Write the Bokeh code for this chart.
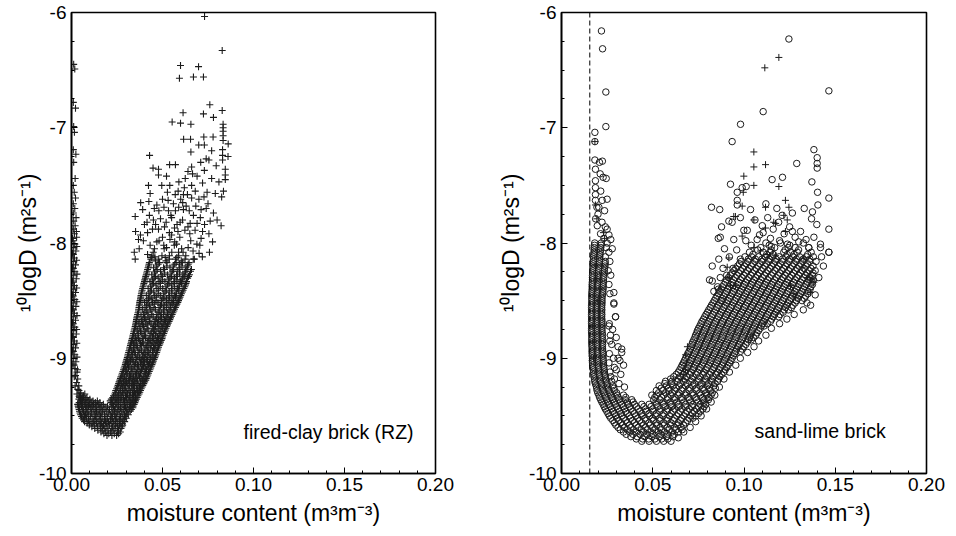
from bokeh.plotting import figure
from bokeh.models import Range1d, SingleIntervalTicker, PrintfTickFormatter, Label, Span
from bokeh.layouts import row
from bokeh.embed import file_html
from bokeh.resources import INLINE

# ---------------- data ----------------
x_ticks_interval = 0.05
y_ticks_interval = 1
x_label = "moisture content (m\u00b3m\u207b\u00b3)"
y_label = "\u00b9\u2070logD (m\u00b2s\u207b\u00b9)"
rz_title = "fired-clay brick (RZ)"
sl_title = "sand-lime brick"
sl_threshold_x = 0.0155

# fired-clay brick (RZ): points near zero moisture content
rz_streak = [
    [0.0012, -6.45], [0.0018, -6.49], [0.0010, -6.78], [0.0022, -6.83], [0.0012, -6.99], [0.0016, -7.04],
    [0.0010, -7.19], [0.0024, -7.23], [0.0012, -7.30], [0.0020, -7.44], [0.0010, -7.50], [0.0015, -7.56],
    [0.0022, -7.61], [0.0010, -7.66], [0.0018, -7.70], [0.0010, -7.74], [0.0025, -7.78], [0.0012, -7.81],
    [0.0020, -7.85], [0.0010, -7.88], [0.0016, -7.92], [0.0028, -7.95], [0.0010, -7.98], [0.0018, -8.01],
    [0.0012, -8.04], [0.0024, -8.07], [0.0010, -8.10], [0.0016, -8.13], [0.0012, -8.16], [0.0022, -8.19],
    [0.0010, -8.22], [0.0018, -8.25], [0.0012, -8.28], [0.0026, -8.31], [0.0010, -8.34], [0.0016, -8.37],
    [0.0012, -8.40], [0.0022, -8.43], [0.0010, -8.46], [0.0018, -8.49], [0.0012, -8.52], [0.0024, -8.55],
    [0.0010, -8.58], [0.0016, -8.61], [0.0012, -8.64], [0.0022, -8.67], [0.0010, -8.70], [0.0018, -8.73],
    [0.0012, -8.76], [0.0026, -8.79], [0.0010, -8.82], [0.0016, -8.85], [0.0012, -8.88], [0.0022, -8.91],
    [0.0010, -8.94], [0.0018, -8.97], [0.0012, -9.00], [0.0024, -9.03], [0.0014, -9.06], [0.0020, -9.09],
    [0.0030, -9.12], [0.0022, -9.15], [0.0034, -9.18], [0.0028, -9.21], [0.0040, -9.24], [0.0035, -9.27],
    [0.0048, -9.30], [0.0042, -9.33], [0.0058, -9.36],
    [0.0027, -7.90], [0.0006, -7.96], [0.0029, -8.03], [0.0006, -8.09], [0.0028, -8.15], [0.0006, -8.21],
    [0.0030, -8.27], [0.0006, -8.33], [0.0028, -8.39], [0.0006, -8.45], [0.0029, -8.51], [0.0006, -8.57],
    [0.0030, -8.63], [0.0006, -8.69], [0.0028, -8.75], [0.0006, -8.81], [0.0029, -8.87], [0.0006, -8.93],
    [0.0030, -8.99], [0.0008, -9.05], [0.0033, -9.10], [0.0015, -9.16], [0.0020, -9.24], [0.0030, -9.31],
]

# fired-clay brick (RZ): dense band, rows of (log D, [moisture contents])
rz_rows = [
    (-9.67, [0.0195, 0.0222, 0.0248]),
    (-9.64, [0.0162, 0.0188, 0.0215, 0.0252, 0.0268]),
    (-9.61, [0.0128, 0.0161, 0.0183, 0.0221, 0.0239, 0.0272]),
    (-9.58, [0.0098, 0.0125, 0.0158, 0.0176, 0.0208, 0.0241, 0.0263, 0.0281]),
    (-9.55, [0.0072, 0.0101, 0.0122, 0.0151, 0.0187, 0.0203, 0.0232, 0.0268, 0.0292]),
    (-9.52, [0.0059, 0.0083, 0.0118, 0.0139, 0.0168, 0.0197, 0.0226, 0.0249, 0.0278, 0.0301]),
    (-9.49, [0.0050, 0.0077, 0.0095, 0.0128, 0.0152, 0.0181, 0.0213, 0.0237, 0.0262, 0.0291, 0.0312]),
    (-9.46, [0.0044, 0.0066, 0.0091, 0.0119, 0.0137, 0.0171, 0.0194, 0.0229, 0.0254, 0.0276, 0.0303, 0.0322]),
    (-9.43, [0.0039, 0.0058, 0.0084, 0.0103, 0.0134, 0.0158, 0.0189, 0.0221, 0.0243, 0.0269, 0.0297, 0.0318, 0.0337]),
    (-9.40, [0.0034, 0.0052, 0.0073, 0.0098, 0.0121, 0.0147, 0.0175, 0.0226, 0.0251, 0.0283, 0.0306, 0.0331, 0.0344]),
    (-9.37, [0.0049, 0.0069, 0.0092, 0.0118, 0.0142, 0.0213, 0.0238, 0.0259, 0.0291, 0.0317, 0.0339, 0.0352]),
    (-9.34, [0.0045, 0.0062, 0.0085, 0.0227, 0.0249, 0.0271, 0.0302, 0.0326, 0.0348, 0.0361]),
    (-9.31, [0.0051, 0.0073, 0.0238, 0.0259, 0.0284, 0.0308, 0.0335, 0.0352, 0.0371]),
    (-9.28, [0.0041, 0.0243, 0.0268, 0.0294, 0.0317, 0.0339, 0.0362, 0.0379]),
    (-9.25, [0.0252, 0.0281, 0.0298, 0.0331, 0.0347, 0.0374, 0.0388]),
    (-9.22, [0.0259, 0.0276, 0.0309, 0.0328, 0.0359, 0.0378, 0.0397]),
    (-9.19, [0.0266, 0.0295, 0.0314, 0.0344, 0.0362, 0.0391, 0.0408]),
    (-9.16, [0.0272, 0.0291, 0.0325, 0.0341, 0.0374, 0.0394, 0.0415]),
    (-9.13, [0.0279, 0.0309, 0.0326, 0.0357, 0.0379, 0.0406, 0.0423]),
    (-9.10, [0.0286, 0.0303, 0.0338, 0.0365, 0.0385, 0.0412, 0.0431]),
    (-9.07, [0.0293, 0.0321, 0.0344, 0.0369, 0.0396, 0.0419, 0.0438]),
    (-9.04, [0.0298, 0.0315, 0.0351, 0.0379, 0.0401, 0.0428, 0.0446]),
    (-9.01, [0.0304, 0.0333, 0.0355, 0.0386, 0.0411, 0.0432, 0.0453]),
    (-8.98, [0.0309, 0.0328, 0.0364, 0.0391, 0.0419, 0.0443, 0.0461]),
    (-8.95, [0.0314, 0.0345, 0.0372, 0.0399, 0.0422, 0.0449, 0.0468]),
    (-8.92, [0.0319, 0.0341, 0.0376, 0.0403, 0.0433, 0.0457, 0.0474]),
    (-8.89, [0.0324, 0.0356, 0.0384, 0.0414, 0.0438, 0.0463, 0.0481]),
    (-8.86, [0.0329, 0.0349, 0.0389, 0.0419, 0.0447, 0.0471, 0.0489]),
    (-8.83, [0.0334, 0.0368, 0.0393, 0.0426, 0.0452, 0.0478, 0.0497]),
    (-8.80, [0.0338, 0.0361, 0.0402, 0.0431, 0.0461, 0.0486, 0.0503]),
    (-8.77, [0.0343, 0.0379, 0.0408, 0.0441, 0.0465, 0.0492, 0.0511]),
    (-8.74, [0.0348, 0.0372, 0.0415, 0.0444, 0.0476, 0.0501, 0.0519]),
    (-8.71, [0.0352, 0.0391, 0.0419, 0.0453, 0.0481, 0.0508, 0.0527]),
    (-8.68, [0.0356, 0.0384, 0.0428, 0.0458, 0.0491, 0.0516, 0.0536]),
    (-8.65, [0.0359, 0.0401, 0.0431, 0.0468, 0.0495, 0.0524, 0.0544]),
    (-8.62, [0.0363, 0.0395, 0.0441, 0.0469, 0.0506, 0.0531, 0.0553]),
    (-8.59, [0.0368, 0.0411, 0.0442, 0.0482, 0.0509, 0.0541, 0.0562]),
    (-8.56, [0.0371, 0.0404, 0.0453, 0.0481, 0.0521, 0.0546, 0.0571]),
    (-8.53, [0.0374, 0.0421, 0.0455, 0.0495, 0.0524, 0.0557, 0.0579]),
    (-8.50, [0.0377, 0.0414, 0.0464, 0.0494, 0.0535, 0.0561, 0.0588]),
    (-8.47, [0.0381, 0.0431, 0.0466, 0.0508, 0.0539, 0.0572, 0.0596]),
    (-8.44, [0.0384, 0.0425, 0.0476, 0.0507, 0.0551, 0.0576, 0.0604]),
    (-8.41, [0.0388, 0.0439, 0.0479, 0.0521, 0.0552, 0.0589, 0.0613]),
    (-8.38, [0.0393, 0.0435, 0.0488, 0.0519, 0.0565, 0.0591, 0.0622]),
    (-8.35, [0.0398, 0.0451, 0.0489, 0.0536, 0.0566, 0.0604, 0.0629]),
    (-8.32, [0.0403, 0.0446, 0.0499, 0.0534, 0.0579, 0.0607]),
    (-8.29, [0.0408, 0.0461, 0.0501, 0.0549, 0.0581, 0.0619, 0.0643]),
    (-8.26, [0.0413, 0.0456, 0.0512, 0.0547, 0.0594, 0.0623]),
    (-8.23, [0.0418, 0.0471, 0.0511, 0.0561, 0.0595, 0.0634, 0.0659]),
    (-8.20, [0.0423, 0.0466, 0.0524, 0.0559, 0.0607, 0.0638]),
    (-8.17, [0.0428, 0.0484, 0.0524, 0.0575, 0.0609, 0.0646]),
    (-8.14, [0.0350, 0.0436, 0.0479, 0.0537, 0.0572, 0.0624, 0.0669]),
    (-8.11, [0.0442, 0.0497, 0.0538, 0.0589, 0.0628]),
    (-8.08, [0.0345, 0.0449, 0.0551, 0.0588, 0.0758]),
    (-8.05, [0.0456, 0.0509, 0.0605]),
    (-8.02, [0.0507, 0.0565, 0.0705]),
    (-7.99, [0.0469, 0.0567, 0.0775]),
]

# fired-clay brick (RZ): further points of the dense band, between the rows above
rz_rows_mid = [
    (-9.655, [0.0178, 0.0205, 0.0235, 0.0259]),
    (-9.625, [0.0145, 0.0172, 0.0201, 0.0229, 0.0258]),
    (-9.595, [0.0112, 0.0142, 0.0169, 0.0195, 0.0226, 0.0252, 0.0277]),
    (-9.565, [0.0086, 0.0113, 0.0138, 0.0164, 0.0194, 0.0222, 0.0251, 0.0279]),
    (-9.535, [0.0066, 0.0093, 0.0129, 0.0158, 0.0181, 0.0214, 0.0241, 0.0263, 0.0287]),
    (-9.505, [0.0055, 0.0071, 0.0105, 0.0131, 0.0159, 0.0189, 0.0219, 0.0243, 0.0269, 0.0296]),
    (-9.475, [0.0047, 0.0069, 0.0086, 0.0111, 0.0145, 0.0163, 0.0202, 0.0224, 0.0249, 0.0283, 0.0306]),
    (-9.445, [0.0042, 0.0062, 0.0079, 0.0108, 0.0129, 0.0152, 0.0179, 0.0209, 0.0236, 0.0261, 0.0288, 0.0311, 0.0329]),
    (-9.415, [0.0037, 0.0055, 0.0078, 0.0093, 0.0114, 0.0139, 0.0166, 0.0198, 0.0231, 0.0259, 0.0291, 0.0324, 0.0338]),
    (-9.385, [0.0042, 0.0061, 0.0085, 0.0108, 0.0131, 0.0156, 0.0219, 0.0245, 0.0271, 0.0299, 0.0323, 0.0348]),
    (-9.355, [0.0041, 0.0056, 0.0078, 0.0101, 0.0219, 0.0243, 0.0266, 0.0286, 0.0311, 0.0334, 0.0356]),
    (-9.325, [0.0048, 0.0066, 0.0231, 0.0254, 0.0276, 0.0297, 0.0318, 0.0341, 0.0365]),
    (-9.295, [0.0241, 0.0261, 0.0281, 0.0301, 0.0325, 0.0346, 0.0367, 0.0375]),
    (-9.265, [0.0248, 0.0271, 0.0289, 0.0311, 0.0337, 0.0358, 0.0383]),
    (-9.235, [0.0256, 0.0272, 0.0293, 0.0318, 0.0341, 0.0366, 0.0392]),
    (-9.205, [0.0262, 0.0286, 0.0302, 0.0336, 0.0349, 0.0381, 0.0402]),
    (-9.175, [0.0269, 0.0283, 0.0319, 0.0333, 0.0356, 0.0383, 0.0411]),
    (-9.145, [0.0276, 0.0301, 0.0319, 0.0351, 0.0367, 0.0399, 0.0419]),
    (-9.115, [0.0283, 0.0296, 0.0332, 0.0349, 0.0376, 0.0403, 0.0427]),
    (-9.085, [0.0289, 0.0313, 0.0331, 0.0361, 0.0391, 0.0408, 0.0435]),
    (-9.055, [0.0296, 0.0308, 0.0348, 0.0362, 0.0387, 0.0423, 0.0442]),
    (-9.025, [0.0301, 0.0324, 0.0339, 0.0381, 0.0395, 0.0417, 0.0449]),
    (-8.995, [0.0307, 0.0321, 0.0359, 0.0373, 0.0402, 0.0436, 0.0457]),
    (-8.965, [0.0311, 0.0336, 0.0351, 0.0394, 0.0408, 0.0431, 0.0464]),
    (-8.935, [0.0316, 0.0331, 0.0366, 0.0384, 0.0416, 0.0445, 0.0471]),
    (-8.905, [0.0321, 0.0348, 0.0362, 0.0409, 0.0421, 0.0451, 0.0478]),
    (-8.875, [0.0326, 0.0341, 0.0379, 0.0394, 0.0431, 0.0458, 0.0485]),
    (-8.845, [0.0331, 0.0358, 0.0375, 0.0421, 0.0436, 0.0466, 0.0493]),
    (-8.815, [0.0336, 0.0351, 0.0393, 0.0407, 0.0445, 0.0472, 0.0499]),
    (-8.785, [0.0341, 0.0369, 0.0386, 0.0436, 0.0451, 0.0481, 0.0507]),
    (-8.755, [0.0345, 0.0361, 0.0399, 0.0421, 0.0457, 0.0487, 0.0515]),
    (-8.725, [0.0350, 0.0381, 0.0396, 0.0451, 0.0462, 0.0496, 0.0523]),
    (-8.695, [0.0354, 0.0371, 0.0409, 0.0437, 0.0473, 0.0503, 0.0531]),
    (-8.665, [0.0357, 0.0392, 0.0408, 0.0463, 0.0478, 0.0511, 0.0540]),
    (-8.635, [0.0361, 0.0382, 0.0421, 0.0449, 0.0488, 0.0519, 0.0549]),
    (-8.605, [0.0366, 0.0403, 0.0419, 0.0476, 0.0493, 0.0527, 0.0557]),
    (-8.575, [0.0369, 0.0391, 0.0433, 0.0461, 0.0505, 0.0535, 0.0566]),
    (-8.545, [0.0372, 0.0413, 0.0429, 0.0489, 0.0509, 0.0543, 0.0575]),
    (-8.515, [0.0375, 0.0401, 0.0445, 0.0475, 0.0521, 0.0551, 0.0584]),
    (-8.485, [0.0379, 0.0423, 0.0441, 0.0502, 0.0522, 0.0559, 0.0592]),
    (-8.455, [0.0382, 0.0411, 0.0457, 0.0488, 0.0535, 0.0567, 0.0600]),
    (-8.425, [0.0386, 0.0432, 0.0452, 0.0514, 0.0537, 0.0575, 0.0609]),
    (-8.395, [0.0391, 0.0421, 0.0469, 0.0501, 0.0549, 0.0583, 0.0617]),
    (-8.365, [0.0396, 0.0443, 0.0464, 0.0528, 0.0551, 0.0592, 0.0626]),
    (-8.335, [0.0401, 0.0431, 0.0481, 0.0513, 0.0563, 0.0599, 0.0632]),
    (-8.305, [0.0406, 0.0454, 0.0476, 0.0541, 0.0566, 0.0611, 0.0638]),
    (-8.275, [0.0411, 0.0441, 0.0493, 0.0527, 0.0578, 0.0613, 0.0648]),
    (-8.245, [0.0416, 0.0464, 0.0489, 0.0554, 0.0581, 0.0626, 0.0654]),
    (-8.215, [0.0421, 0.0451, 0.0506, 0.0541, 0.0591, 0.0629]),
    (-8.185, [0.0426, 0.0476, 0.0567, 0.0594, 0.0641]),
    (-8.155, [0.0461, 0.0519, 0.0603]),
    (-8.125, [0.0439, 0.0515, 0.0579]),
]

# fired-clay brick (RZ): scattered points at higher moisture content
rz_scatter = [
    [0.0418, -7.91], [0.0379, -7.93], [0.0352, -7.90], [0.0445, -7.88], [0.0478, -7.88], [0.0500, -7.95],
    [0.0550, -7.93], [0.0595, -7.95], [0.0650, -7.92], [0.0585, -7.90], [0.0533, -7.72], [0.0571, -7.72],
    [0.0615, -7.71], [0.0637, -7.58], [0.0660, -7.61], [0.0800, -7.80], [0.0822, -7.85], [0.0719, -8.12],
    [0.0675, -8.14], [0.0350, -7.77], [0.0380, -7.65], [0.0425, -7.64], [0.0432, -7.57], [0.0527, -7.56],
    [0.0423, -7.50], [0.0496, -7.50], [0.0478, -7.36], [0.0478, -7.41], [0.0522, -7.42], [0.0571, -7.32],
    [0.0625, -7.44], [0.0665, -7.40], [0.0835, -7.55], [0.0790, -7.57], [0.0845, -7.36], [0.0845, -7.41],
    [0.0845, -7.45], [0.0520, -7.82], [0.0550, -7.78], [0.0580, -7.84], [0.0610, -7.80], [0.0640, -7.86],
    [0.0670, -7.76], [0.0690, -7.83], [0.0720, -7.90], [0.0740, -7.70], [0.0560, -7.66], [0.0600, -7.62],
    [0.0630, -7.68], [0.0660, -7.50], [0.0680, -7.55], [0.0700, -7.62], [0.0720, -7.48], [0.0750, -7.66],
    [0.0780, -7.74], [0.0620, -7.52], [0.0590, -7.47], [0.0640, -7.38], [0.0660, -7.34], [0.0690, -7.42],
    [0.0710, -7.30], [0.0730, -7.37], [0.0755, -7.28], [0.0770, -7.44], [0.0795, -7.33], [0.0810, -7.47],
    [0.0830, -7.24], [0.0825, -7.60], [0.0745, -7.56], [0.0480, -7.72], [0.0450, -7.80], [0.0500, -7.62],
    [0.0455, -7.70], [0.0570, -7.58], [0.0540, -7.50],
    [0.0395, -7.98], [0.0432, -8.02], [0.0418, -8.10], [0.0372, -8.05], [0.0641, -8.04], [0.0668, -8.07],
    [0.0655, -7.98], [0.0689, -8.01], [0.0712, -7.96], [0.0701, -8.09], [0.0462, -7.84], [0.0489, -7.79],
    [0.0511, -7.86], [0.0538, -7.91], [0.0566, -7.87], [0.0597, -7.82], [0.0623, -7.89], [0.0652, -7.83],
    [0.0679, -7.89], [0.0708, -7.78], [0.0731, -7.84], [0.0755, -7.92], [0.0762, -7.81], [0.0401, -7.84],
    [0.0428, -7.76], [0.0469, -7.67], [0.0508, -7.69], [0.0531, -7.63], [0.0546, -7.76], [0.0589, -7.69],
    [0.0611, -7.65], [0.0647, -7.72], [0.0683, -7.68], [0.0712, -7.71], [0.0728, -7.60], [0.0391, -7.71],
    [0.0415, -7.82], [0.0368, -7.97], [0.0586, -7.55], [0.0615, -7.58], [0.0481, -7.98], [0.0522, -8.04],
    [0.0577, -8.01], [0.0613, -8.08], [0.0458, -8.12], [0.0541, -7.97],
    [0.0731, -6.035], [0.0828, -6.33], [0.0599, -6.46], [0.0698, -6.47], [0.0593, -6.57], [0.0670, -6.56],
    [0.0725, -6.56], [0.0760, -6.80], [0.0828, -6.85], [0.0725, -6.88], [0.0613, -6.87], [0.0780, -6.91],
    [0.0553, -6.95], [0.0599, -6.96], [0.0656, -6.97], [0.0833, -6.97], [0.0833, -7.00], [0.0833, -7.03],
    [0.0833, -7.07], [0.0833, -7.11], [0.0616, -7.10], [0.0654, -7.10], [0.0727, -7.08], [0.0778, -7.08],
    [0.0699, -7.15], [0.0730, -7.15], [0.0861, -7.14], [0.0429, -7.24], [0.0656, -7.21], [0.0770, -7.20],
    [0.0830, -7.19], [0.0860, -7.25], [0.0740, -7.27], [0.0830, -7.28], [0.0539, -7.32], [0.0448, -7.35],
]

# sand-lime brick: dense band of circles, rows of (log D, [moisture contents])
sl_rows = [
    (-9.72, [0.044, 0.048, 0.052, 0.056]),
    (-9.68, [0.038, 0.0415, 0.0455, 0.0495, 0.0535, 0.0575, 0.061]),
    (-9.64, [0.034, 0.0375, 0.041, 0.045, 0.049, 0.053, 0.0565, 0.0605, 0.064]),
    (-9.60, [0.031, 0.0345, 0.038, 0.042, 0.046, 0.050, 0.054, 0.058, 0.062, 0.0655]),
    (-9.56, [0.029, 0.0325, 0.036, 0.040, 0.044, 0.048, 0.052, 0.056, 0.060, 0.064, 0.068]),
    (-9.52, [0.027, 0.0305, 0.034, 0.0378, 0.0418, 0.0458, 0.0498, 0.0538, 0.0578, 0.0618, 0.0658, 0.0698, 0.072]),
    (-9.48, [0.0255, 0.029, 0.0325, 0.036, 0.040, 0.044, 0.048, 0.052, 0.056, 0.060, 0.064, 0.068, 0.0718, 0.075]),
    (-9.44, [0.024, 0.0275, 0.031, 0.0345, 0.038, 0.042, 0.046, 0.050, 0.054, 0.058, 0.062, 0.066, 0.070, 0.074, 0.0775]),
    (-9.40, [0.0228, 0.026, 0.0295, 0.033, 0.0365, 0.040, 0.044, 0.048, 0.052, 0.056, 0.060, 0.064, 0.068, 0.072, 0.076, 0.079]),
    (-9.36, [0.0215, 0.0248, 0.028, 0.0315, 0.035, 0.0385, 0.0505, 0.054, 0.058, 0.062, 0.066, 0.070, 0.074, 0.078, 0.0805]),
    (-9.32, [0.0205, 0.0238, 0.027, 0.0305, 0.034, 0.0495, 0.052, 0.056, 0.060, 0.064, 0.068, 0.072, 0.076, 0.0795, 0.082]),
    (-9.28, [0.0195, 0.0228, 0.026, 0.029, 0.052, 0.0555, 0.059, 0.062, 0.066, 0.070, 0.074, 0.078, 0.0815]),
    (-9.24, [0.019, 0.022, 0.025, 0.028, 0.0535, 0.0575, 0.061, 0.0645, 0.068, 0.072, 0.076, 0.080, 0.0835]),
    (-9.20, [0.0182, 0.0212, 0.0245, 0.0275, 0.057, 0.0605, 0.0635, 0.067, 0.071, 0.075, 0.079, 0.0825, 0.0855]),
    (-9.16, [0.0178, 0.0208, 0.024, 0.027, 0.0615, 0.065, 0.0685, 0.072, 0.0758, 0.0795, 0.083, 0.0868]),
    (-9.12, [0.0175, 0.0205, 0.0235, 0.0265, 0.064, 0.0675, 0.071, 0.0745, 0.078, 0.0818, 0.0855, 0.089]),
    (-9.08, [0.0172, 0.0202, 0.0232, 0.029, 0.0655, 0.069, 0.0725, 0.076, 0.0798, 0.0835, 0.087, 0.0905]),
    (-9.04, [0.017, 0.020, 0.023, 0.026, 0.0668, 0.0702, 0.074, 0.0778, 0.0815, 0.085, 0.0888, 0.092]),
    (-9.00, [0.017, 0.020, 0.0228, 0.031, 0.068, 0.0715, 0.075, 0.0788, 0.0825, 0.0862, 0.090, 0.0935]),
    (-8.96, [0.0168, 0.0198, 0.0228, 0.0262, 0.0692, 0.0728, 0.0765, 0.080, 0.0838, 0.0875, 0.091, 0.0948]),
    (-8.92, [0.0168, 0.0198, 0.0225, 0.033, 0.0705, 0.074, 0.0778, 0.0815, 0.085, 0.0888, 0.0925, 0.096, 0.099]),
    (-8.88, [0.0166, 0.0196, 0.0225, 0.0275, 0.0715, 0.075, 0.0788, 0.0825, 0.0862, 0.090, 0.0938, 0.0975, 0.101]),
    (-8.84, [0.0166, 0.0196, 0.0225, 0.0725, 0.0762, 0.080, 0.0838, 0.0875, 0.0912, 0.095, 0.0988, 0.1025, 0.104]),
    (-8.80, [0.0166, 0.0195, 0.0225, 0.0268, 0.0735, 0.0772, 0.081, 0.0848, 0.0885, 0.0922, 0.096, 0.0998, 0.1035, 0.1065]),
    (-8.76, [0.0165, 0.0195, 0.0222, 0.0745, 0.0782, 0.082, 0.0858, 0.0895, 0.0932, 0.097, 0.1008, 0.1045, 0.108]),
    (-8.72, [0.0165, 0.0195, 0.0222, 0.026, 0.0758, 0.0795, 0.0832, 0.087, 0.0908, 0.0945, 0.0982, 0.102, 0.1058, 0.1095, 0.111]),
    (-8.68, [0.0165, 0.0194, 0.0222, 0.077, 0.0808, 0.0845, 0.0882, 0.092, 0.0958, 0.0995, 0.1032, 0.107, 0.1108, 0.1145]),
    (-8.64, [0.0165, 0.0194, 0.022, 0.0296, 0.0785, 0.0822, 0.086, 0.0898, 0.0935, 0.0972, 0.101, 0.1048, 0.1085, 0.1122, 0.116, 0.119]),
    (-8.60, [0.0165, 0.0194, 0.022, 0.080, 0.0838, 0.0875, 0.0912, 0.095, 0.0988, 0.1025, 0.1062, 0.110, 0.1138, 0.1175, 0.1215]),
    (-8.56, [0.0165, 0.0194, 0.022, 0.0815, 0.0852, 0.089, 0.0928, 0.0965, 0.1002, 0.104, 0.1078, 0.1115, 0.1152, 0.119, 0.1228, 0.126]),
    (-8.52, [0.0166, 0.0195, 0.0222, 0.0287, 0.083, 0.0868, 0.0905, 0.0942, 0.098, 0.1018, 0.1055, 0.1092, 0.113, 0.1168, 0.1205, 0.1242, 0.128, 0.1345]),
    (-8.48, [0.0166, 0.0195, 0.0222, 0.0845, 0.0882, 0.092, 0.0958, 0.0995, 0.1032, 0.107, 0.1108, 0.1145, 0.1182, 0.122, 0.1258, 0.1295, 0.133]),
    (-8.44, [0.0166, 0.0195, 0.0225, 0.0265, 0.086, 0.0898, 0.0935, 0.0972, 0.101, 0.1048, 0.1085, 0.1122, 0.116, 0.1198, 0.1235, 0.1272, 0.131, 0.135]),
    (-8.40, [0.0168, 0.0198, 0.0228, 0.0875, 0.0912, 0.095, 0.0988, 0.1025, 0.1062, 0.110, 0.1138, 0.1175, 0.1212, 0.125, 0.1288, 0.1325, 0.1362]),
    (-8.36, [0.0168, 0.0198, 0.0228, 0.026, 0.089, 0.0928, 0.0965, 0.1002, 0.104, 0.1078, 0.1115, 0.1152, 0.119, 0.1228, 0.1265, 0.1302, 0.134, 0.1375]),
    (-8.32, [0.017, 0.020, 0.023, 0.0905, 0.0942, 0.098, 0.1018, 0.1055, 0.1092, 0.113, 0.1168, 0.1205, 0.1242, 0.128, 0.1318, 0.1355, 0.138]),
    (-8.28, [0.017, 0.020, 0.023, 0.027, 0.0925, 0.0962, 0.100, 0.1038, 0.1075, 0.1112, 0.115, 0.1188, 0.1225, 0.1262, 0.130, 0.1338, 0.1375]),
    (-8.24, [0.0172, 0.0202, 0.0235, 0.0945, 0.0982, 0.102, 0.1058, 0.1095, 0.1132, 0.117, 0.1208, 0.1245, 0.1282, 0.132, 0.1358, 0.139]),
    (-8.20, [0.0172, 0.0205, 0.0238, 0.0965, 0.1002, 0.104, 0.1078, 0.1115, 0.1152, 0.119, 0.1228, 0.1265, 0.1302, 0.134, 0.1378]),
    (-8.16, [0.0175, 0.0208, 0.024, 0.0265, 0.0985, 0.1022, 0.106, 0.1098, 0.1135, 0.1172, 0.121, 0.1248, 0.1285, 0.1322, 0.136, 0.1395]),
    (-8.12, [0.0175, 0.021, 0.024, 0.1005, 0.1042, 0.108, 0.1118, 0.1155, 0.1192, 0.123, 0.1268, 0.1305, 0.1342, 0.138]),
    (-8.08, [0.0178, 0.0212, 0.026, 0.103, 0.1105, 0.1142, 0.1218, 0.1255, 0.1292, 0.1368, 0.1465]),
    (-8.04, [0.018, 0.0215, 0.0245, 0.1092, 0.1168, 0.1242, 0.128, 0.1355, 0.1419]),
    (-8.00, [0.0182, 0.0218, 0.025, 0.112, 0.120, 0.1325]),
]

# sand-lime brick: further circles in the dense band, between the rows above
sl_rows_mid = [
    (-9.70, [0.041, 0.0445, 0.0478, 0.0512, 0.0549, 0.0583]),
    (-9.66, [0.0355, 0.0392, 0.0431, 0.0468, 0.0502, 0.0544, 0.0581, 0.0618]),
    (-9.62, [0.0322, 0.0361, 0.0395, 0.0437, 0.0471, 0.0512, 0.0548, 0.0589, 0.0627, 0.0661]),
    (-9.58, [0.0298, 0.0334, 0.0372, 0.0409, 0.0448, 0.0486, 0.0521, 0.0563, 0.0598, 0.0638, 0.0669]),
    (-9.54, [0.0281, 0.0313, 0.0352, 0.0389, 0.0428, 0.0461, 0.0503, 0.0539, 0.0577, 0.0613, 0.0652, 0.0691]),
    (-9.50, [0.0262, 0.0298, 0.0331, 0.0372, 0.0407, 0.0442, 0.0482, 0.0518, 0.0557, 0.0593, 0.0632, 0.0671, 0.0708, 0.0736]),
    (-9.46, [0.0248, 0.0282, 0.0318, 0.0352, 0.0391, 0.0429, 0.0463, 0.0501, 0.0538, 0.0577, 0.0612, 0.0651, 0.0688, 0.0727, 0.0761]),
    (-9.42, [0.0234, 0.0268, 0.0302, 0.0339, 0.0373, 0.0411, 0.0452, 0.0491, 0.0527, 0.0566, 0.0603, 0.0641, 0.0679, 0.0716, 0.0752, 0.0781]),
    (-9.38, [0.0221, 0.0254, 0.0289, 0.0322, 0.0361, 0.0392, 0.0518, 0.0557, 0.0596, 0.0633, 0.0671, 0.0708, 0.0747, 0.0782]),
    (-9.34, [0.0209, 0.0243, 0.0276, 0.0311, 0.0352, 0.0511, 0.0548, 0.0582, 0.0621, 0.0659, 0.0697, 0.0736, 0.0773, 0.0808]),
    (-9.30, [0.0199, 0.0232, 0.0266, 0.0302, 0.0532, 0.0571, 0.0607, 0.0643, 0.0682, 0.0718, 0.0757, 0.0792, 0.0826]),
    (-9.26, [0.0193, 0.0224, 0.0256, 0.0287, 0.0547, 0.0586, 0.0627, 0.0663, 0.0701, 0.0739, 0.0776, 0.0812, 0.0843]),
    (-9.22, [0.0186, 0.0217, 0.0251, 0.0566, 0.0602, 0.0651, 0.0689, 0.0728, 0.0767, 0.0805, 0.0841]),
    (-9.18, [0.0181, 0.0211, 0.0243, 0.0598, 0.0639, 0.0677, 0.0715, 0.0752, 0.0788, 0.0826, 0.0861]),
    (-9.14, [0.0177, 0.0207, 0.0238, 0.0629, 0.0668, 0.0703, 0.0739, 0.0776, 0.0812, 0.0849, 0.0878]),
    (-9.10, [0.0174, 0.0204, 0.0234, 0.0648, 0.0684, 0.0721, 0.0757, 0.0793, 0.0829, 0.0866, 0.0897]),
    (-9.06, [0.0171, 0.0201, 0.0231, 0.0661, 0.0697, 0.0733, 0.0771, 0.0806, 0.0843, 0.0881, 0.0912]),
    (-9.02, [0.0169, 0.0199, 0.0229, 0.0674, 0.0709, 0.0746, 0.0782, 0.0819, 0.0857, 0.0894, 0.0928]),
    (-8.98, [0.0168, 0.0197, 0.0227, 0.0686, 0.0722, 0.0758, 0.0795, 0.0832, 0.0869, 0.0906, 0.0941]),
    (-8.94, [0.0167, 0.0196, 0.0226, 0.0699, 0.0734, 0.0771, 0.0808, 0.0844, 0.0881, 0.0919, 0.0955, 0.0981]),
    (-8.90, [0.0167, 0.0196, 0.0224, 0.0709, 0.0745, 0.0783, 0.0819, 0.0857, 0.0894, 0.0931, 0.0968, 0.0998]),
    (-8.86, [0.0166, 0.0195, 0.0224, 0.0719, 0.0756, 0.0794, 0.0831, 0.0868, 0.0906, 0.0944, 0.0981, 0.1018]),
    (-8.82, [0.0166, 0.0195, 0.0223, 0.0731, 0.0767, 0.0806, 0.0843, 0.0881, 0.0918, 0.0956, 0.0993, 0.1031, 0.1052]),
    (-8.78, [0.0165, 0.0195, 0.0223, 0.0741, 0.0778, 0.0816, 0.0853, 0.0891, 0.0929, 0.0967, 0.1004, 0.1042, 0.1071]),
    (-8.74, [0.0165, 0.0194, 0.0222, 0.0751, 0.0789, 0.0827, 0.0864, 0.0902, 0.0939, 0.0977, 0.1014, 0.1052, 0.1089]),
    (-8.70, [0.0165, 0.0194, 0.0221, 0.0764, 0.0801, 0.0839, 0.0877, 0.0914, 0.0952, 0.0989, 0.1027, 0.1064, 0.1102, 0.1128]),
    (-8.66, [0.0165, 0.0194, 0.0221, 0.0778, 0.0815, 0.0853, 0.0891, 0.0928, 0.0966, 0.1003, 0.1041, 0.1078, 0.1116, 0.1152]),
    (-8.62, [0.0165, 0.0194, 0.0221, 0.0792, 0.0829, 0.0867, 0.0905, 0.0942, 0.0979, 0.1017, 0.1055, 0.1092, 0.1129, 0.1167, 0.1198]),
    (-8.58, [0.0165, 0.0194, 0.0221, 0.0807, 0.0845, 0.0882, 0.0919, 0.0957, 0.0995, 0.1032, 0.1069, 0.1107, 0.1145, 0.1182, 0.1221, 0.1243]),
    (-8.54, [0.0165, 0.0194, 0.0221, 0.0822, 0.0859, 0.0897, 0.0935, 0.0972, 0.1009, 0.1047, 0.1085, 0.1122, 0.1159, 0.1197, 0.1235, 0.1268]),
    (-8.50, [0.0166, 0.0195, 0.0222, 0.0837, 0.0874, 0.0912, 0.0949, 0.0987, 0.1025, 0.1062, 0.1099, 0.1137, 0.1175, 0.1212, 0.1249, 0.1287, 0.1318]),
    (-8.46, [0.0166, 0.0195, 0.0223, 0.0852, 0.0889, 0.0927, 0.0965, 0.1002, 0.1039, 0.1077, 0.1115, 0.1152, 0.1189, 0.1227, 0.1265, 0.1302, 0.1338]),
    (-8.42, [0.0167, 0.0196, 0.0226, 0.0867, 0.0905, 0.0942, 0.0979, 0.1017, 0.1055, 0.1092, 0.1129, 0.1167, 0.1205, 0.1242, 0.1279, 0.1317, 0.1352]),
    (-8.38, [0.0168, 0.0198, 0.0228, 0.0882, 0.0919, 0.0957, 0.0995, 0.1032, 0.1069, 0.1107, 0.1145, 0.1182, 0.1219, 0.1257, 0.1295, 0.1332, 0.1366]),
    (-8.34, [0.0169, 0.0199, 0.0229, 0.0898, 0.0935, 0.0972, 0.1009, 0.1047, 0.1085, 0.1122, 0.1159, 0.1197, 0.1235, 0.1272, 0.1309, 0.1347, 0.1374]),
    (-8.30, [0.0170, 0.0201, 0.0231, 0.0915, 0.0952, 0.0989, 0.1027, 0.1064, 0.1101, 0.1139, 0.1177, 0.1214, 0.1251, 0.1289, 0.1327, 0.1362]),
    (-8.26, [0.0171, 0.0202, 0.0234, 0.0934, 0.0971, 0.1009, 0.1046, 0.1084, 0.1121, 0.1158, 0.1196, 0.1233, 0.1271, 0.1308, 0.1345, 0.1378]),
    (-8.22, [0.0172, 0.0204, 0.0236, 0.0955, 0.0992, 0.1029, 0.1067, 0.1104, 0.1142, 0.1179, 0.1217, 0.1254, 0.1291, 0.1329, 0.1366]),
    (-8.18, [0.0174, 0.0207, 0.0239, 0.0975, 0.1012, 0.1049, 0.1087, 0.1124, 0.1162, 0.1199, 0.1236, 0.1274, 0.1311, 0.1348]),
    (-8.14, [0.0175, 0.0209, 0.1024, 0.1062, 0.1099, 0.1137, 0.1174, 0.1211, 0.1249, 0.1287, 0.1324, 0.1361]),
    (-8.10, [0.0177, 0.0211, 0.1049, 0.1124, 0.1161, 0.1237, 0.1274, 0.1349]),
    (-8.06, [0.0179, 0.0214, 0.1075, 0.1149, 0.1225, 0.1299]),
    (-8.02, [0.0181, 0.0217, 0.1138, 0.1251]),
]

# sand-lime brick: scattered circles
sl_scatter = [
    [0.0219, -6.16], [0.0225, -6.315], [0.0243, -6.69], [0.0243, -6.99], [0.0183, -7.04], [0.0183, -7.12],
    [0.0183, -7.28], [0.0208, -7.30], [0.0224, -7.29], [0.0186, -7.36], [0.0212, -7.40], [0.0228, -7.43],
    [0.0186, -7.46], [0.0245, -7.44], [0.0186, -7.52], [0.0186, -7.58], [0.0186, -7.63], [0.0223, -7.63],
    [0.0250, -7.62], [0.0194, -7.69], [0.0205, -7.69], [0.0215, -7.55], [0.0236, -7.72], [0.0200, -7.75],
    [0.0187, -7.79], [0.0222, -7.82], [0.0196, -7.85], [0.0240, -7.86], [0.0250, -7.88], [0.0214, -7.92],
    [0.0260, -7.93], [0.0232, -7.96], [0.0270, -7.97],
    [0.0278, -8.05], [0.0256, -8.24], [0.0287, -8.43], [0.0287, -8.53], [0.0296, -8.64], [0.0262, -8.70],
    [0.0280, -8.75], [0.0300, -8.82], [0.0265, -8.85], [0.0310, -8.90], [0.0330, -8.95], [0.0285, -9.00],
    [0.0320, -9.02], [0.0340, -9.06], [0.0300, -9.10], [0.0325, -9.14], [0.0290, -9.18], [0.0315, -9.22],
    [0.0345, -9.25],
    [0.1246, -6.23], [0.1105, -6.86], [0.0981, -6.97], [0.0935, -7.12], [0.1465, -6.68], [0.1383, -7.19],
    [0.1401, -7.26], [0.1401, -7.31], [0.1401, -7.35], [0.1289, -7.31], [0.1372, -7.47], [0.1403, -7.56],
    [0.1465, -7.61], [0.1211, -7.43], [0.1154, -7.45], [0.0926, -7.49], [0.0963, -7.56], [0.1012, -7.51],
    [0.0822, -7.69], [0.0867, -7.71], [0.0963, -7.63], [0.0963, -7.67], [0.1036, -7.71], [0.1209, -7.76],
    [0.1465, -7.88], [0.1370, -7.79], [0.1399, -7.84], [0.0877, -7.86], [0.0917, -7.81], [0.0935, -7.82],
    [0.0859, -7.96], [0.0999, -7.89], [0.1018, -7.89], [0.0893, -8.05], [0.0944, -7.97], [0.1465, -8.08],
    [0.1419, -8.01], [0.0826, -8.20], [0.0811, -8.32], [0.0826, -8.33], [0.0862, -8.14], [0.0870, -7.95],
    [0.0990, -7.52], [0.0860, -8.40], [0.0880, -8.50],
    [0.1060, -7.80], [0.1100, -7.85], [0.1130, -7.78], [0.1160, -7.88], [0.1190, -7.82], [0.1220, -7.92],
    [0.1250, -7.86], [0.1280, -7.95], [0.1310, -7.90], [0.1340, -7.97], [0.1085, -7.93], [0.1145, -7.96],
    [0.1265, -7.74], [0.1330, -7.70], [0.1375, -7.73], [0.1405, -7.67], [0.1120, -7.66], [0.1180, -7.70],
    [0.0980, -7.78], [0.1010, -7.98], [0.0960, -8.06], [0.0920, -8.12], [0.0980, -8.14], [0.0940, -8.22],
    [0.0885, -8.22], [0.0905, -8.28], [0.0855, -8.38], [0.0870, -8.30], [0.0835, -8.42],
    [0.1040, -8.02], [0.1072, -7.97], [0.1150, -8.03], [0.1195, -7.98], [0.1238, -8.01], [0.1300, -7.99],
    [0.1355, -8.04], [0.1383, -7.95], [0.1105, -7.91], [0.1265, -7.90],
    [0.1425, -8.12], [0.1435, -8.20], [0.1410, -8.30], [0.1390, -8.45], [0.1365, -8.54], [0.1325, -8.58],
    [0.1275, -8.62], [0.1235, -8.66], [0.1195, -8.70], [0.1150, -8.74], [0.1120, -8.80], [0.1080, -8.85],
    [0.1055, -8.90], [0.1020, -8.95], [0.0980, -9.00], [0.0955, -9.06], [0.0920, -9.12], [0.0890, -9.18],
    [0.0865, -9.25], [0.0840, -9.32], [0.0820, -9.38], [0.0795, -9.44], [0.0765, -9.50], [0.0735, -9.55],
    [0.0705, -9.60], [0.0670, -9.64], [0.0640, -9.69], [0.0600, -9.72],
]

# sand-lime brick: crosses
sl_cross = [
    [0.1191, -6.39], [0.1114, -6.48], [0.1054, -7.21], [0.1054, -7.34], [0.1118, -7.32], [0.0999, -7.42],
    [0.1054, -7.50], [0.0996, -7.56], [0.0953, -7.77], [0.1118, -7.69], [0.1054, -7.80], [0.1191, -7.51],
    [0.1227, -7.63], [0.1246, -7.69], [0.1218, -7.76], [0.1163, -7.82], [0.1118, -7.87], [0.0953, -8.37],
    [0.0917, -8.13], [0.0990, -7.94], [0.0990, -7.68], [0.0944, -7.77], [0.1237, -7.80], [0.1173, -7.83],
    [0.1227, -7.90], [0.1054, -8.04], [0.1090, -8.07], [0.1127, -8.10], [0.1173, -8.11], [0.0908, -8.21],
    [0.0917, -8.30], [0.0926, -8.37], [0.1328, -8.13], [0.1319, -8.21], [0.1346, -8.30], [0.1374, -8.31],
    [0.1383, -8.34], [0.1273, -8.44], [0.1282, -8.47], [0.1255, -8.37], [0.1364, -8.43],
    [0.0183, -7.12], [0.0186, -7.67], [0.0194, -7.79], [0.0230, -7.91], [0.0236, -7.96], [0.0190, -8.19],
    [0.0194, -8.31], [0.0210, -8.40], [0.0200, -8.50], [0.0168, -8.72], [0.0172, -8.86], [0.0175, -9.00],
    [0.0680, -8.97], [0.0685, -9.04], [0.0680, -9.10], [0.0670, -9.14], [0.0661, -9.18], [0.0690, -8.90],
]

# ---------------- helpers ----------------
def flatten_rows(*row_lists):
    xs, ys = [], []
    for rows in row_lists:
        for yv, xr in rows:
            xs.extend(xr)
            ys.extend([yv] * len(xr))
    return xs, ys

def split_pairs(*pair_lists):
    xs, ys = [], []
    for pairs in pair_lists:
        xs.extend(p[0] for p in pairs)
        ys.extend(p[1] for p in pairs)
    return xs, ys

FONT = "Liberation Sans"
INK = "#1c1c1c"
FIG_H = 531

def make_fig(width, bl, br, bt, bb, ylabel_standoff):
    p = figure(width=width, height=FIG_H, x_range=Range1d(0, 0.2), y_range=Range1d(-10, -6),
               output_backend="svg", toolbar_location=None,
               min_border_left=bl, min_border_right=br, min_border_top=bt, min_border_bottom=bb)
    p.xgrid.visible = False
    p.ygrid.visible = False
    p.outline_line_color = "black"
    p.outline_line_width = 1.6
    p.background_fill_color = "white"
    p.border_fill_color = "white"

    p.xaxis.ticker = SingleIntervalTicker(interval=x_ticks_interval, num_minor_ticks=5)
    p.xaxis.formatter = PrintfTickFormatter(format="%.2f")
    p.yaxis.ticker = SingleIntervalTicker(interval=y_ticks_interval, num_minor_ticks=4)
    p.yaxis.formatter = PrintfTickFormatter(format="%d")
    for ax in (p.xaxis[0], p.yaxis[0]):
        ax.major_tick_in = 6
        ax.major_tick_out = 0
        ax.minor_tick_in = 3
        ax.minor_tick_out = 0
        ax.major_tick_line_color = "black"
        ax.minor_tick_line_color = "black"
        ax.axis_line_color = "black"
        ax.axis_line_width = 1.6
        ax.major_label_text_font = FONT
        ax.major_label_text_font_size = "19px"
        ax.major_label_text_color = "black"
        ax.major_label_text_line_height = 1.0
        ax.axis_label_text_font = FONT
        ax.axis_label_text_font_size = "23px"
        ax.axis_label_text_font_style = "normal"
        ax.axis_label_text_color = "black"
        ax.axis_label_text_line_height = 1.0
    p.xaxis.axis_label = x_label
    p.yaxis.axis_label = y_label
    p.xaxis.major_label_standoff = 4
    p.xaxis.axis_label_standoff = 6
    p.yaxis.major_label_standoff = 5
    p.yaxis.axis_label_standoff = ylabel_standoff
    return p

# ---------------- left panel: fired-clay brick ----------------
p1 = make_fig(478, 71, 43, 12, 58, -5)
ax_, ay_ = split_pairs(rz_streak, rz_scatter)
bx_, by_ = flatten_rows(rz_rows, rz_rows_mid)
p1.scatter(ax_ + bx_, ay_ + by_, marker="cross", size=7, line_color=INK, line_width=1.1)
p1.add_layout(Label(x=0.0945, y=-9.64, text=rz_title, text_font=FONT, text_font_size="19.5px",
                    text_color="black", text_baseline="alphabetic"))

# ---------------- right panel: sand-lime brick ----------------
p2 = make_fig(470, 83, 22, 12, 58, 2)
p2.add_layout(Span(location=sl_threshold_x, dimension="height", line_color="black",
                   line_width=1, line_dash="5 3"))
ox, oy = flatten_rows(sl_rows, sl_rows_mid)
ex, ey = split_pairs(sl_scatter)
p2.scatter(ox + ex, oy + ey, marker="circle", size=6.5, fill_color=None,
           line_color=INK, line_width=1)
kx, ky = split_pairs(sl_cross)
p2.scatter(kx, ky, marker="cross", size=7, line_color=INK, line_width=1)
p2.add_layout(Label(x=0.1058, y=-9.63, text=sl_title, text_font=FONT, text_font_size="19.5px",
                    text_color="black", text_baseline="alphabetic"))

layout = row(p1, p2)
open("out.html", "w").write(file_html(layout, INLINE))
